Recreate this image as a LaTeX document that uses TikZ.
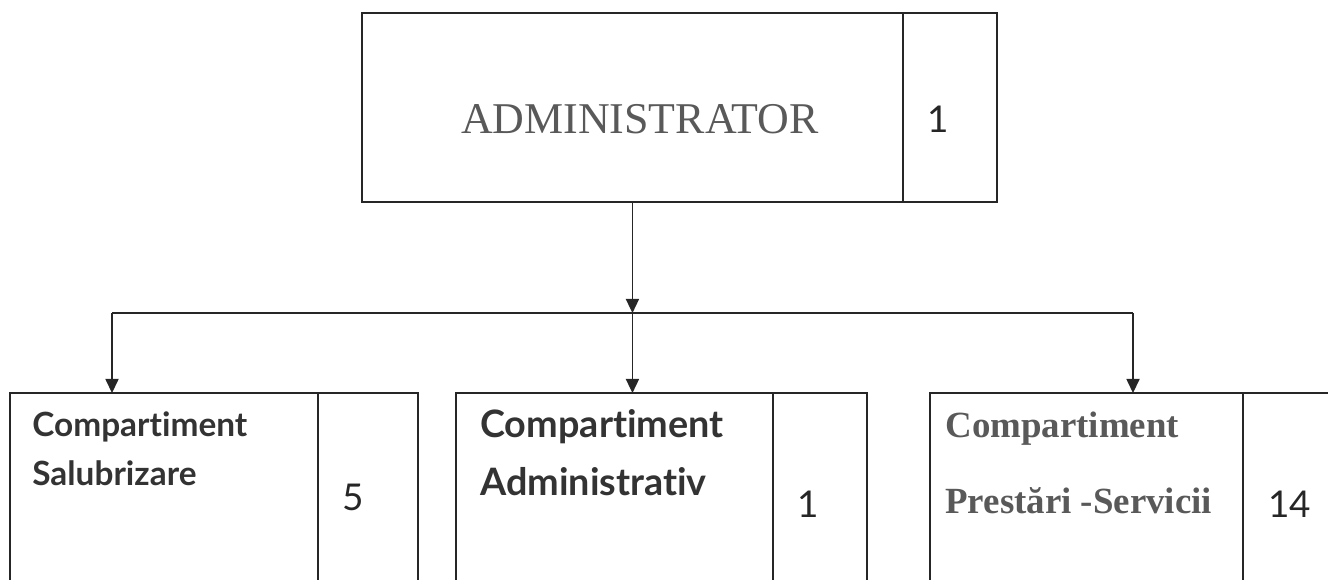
\documentclass[tikz,border=0pt]{standalone}
\usepackage{fontspec}
\setmainfont{Liberation Serif}
\setsansfont{Lato}[Ligatures=NoCommon]
\usetikzlibrary{arrows.meta,positioning}

\tikzset{
  box/.style={rectangle, draw=black!85, line width=0.7pt, inner sep=0pt, outer sep=0pt},
  unit/.style={box, anchor=north west},
  link/.style={draw=black!85, line width=0.7pt},
  down/.style={link, -{Triangle[length=8pt,width=7.5pt]}},
  headtxt/.style={anchor=base, inner sep=0pt, text=black!65, font=\fontsize{25}{28}\selectfont},
  sanstxt/.style={anchor=base west, inner sep=0pt, text=black!80, font=\sffamily\bfseries\fontsize{#1}{#1}\selectfont},
  seriftxt/.style={anchor=base west, inner sep=0pt, text=black!65, font=\bfseries\fontsize{21}{24}\selectfont},
  digit/.style={anchor=base west, inner sep=0pt, text=black!85, font=\sffamily\fontsize{21}{24}\selectfont}
}

\begin{document}
\begin{tikzpicture}[x=0.02cm, y=-0.02cm]
  \useasboundingbox (0,0) rectangle (1328,579);

  % top
  \node[unit, minimum width=10.82cm, minimum height=3.78cm] (Adm) at (362,13) {};
  \node[box, minimum width=1.88cm, minimum height=3.78cm, right=0pt of Adm] (AdmN) {};
  \node[headtxt] (AdmT) at (640,133) {ADMINISTRATOR};
  \node[digit]   (AdmD) at (927,132) {1};

  % compartments
  \node[unit, minimum width=6.16cm, minimum height=4.14cm] (Sal) at (10,393) {};
  \node[box, minimum width=2cm, minimum height=4.14cm, right=0pt of Sal] (SalN) {};
  \node[sanstxt=19] (SalA) at (32,436) {Compartiment};
  \node[sanstxt=19] (SalB) at (32,485) {Salubrizare};
  \node[digit]      (SalD) at (342,510) {5};

  \node[unit, minimum width=6.34cm, minimum height=4.14cm] (Adv) at (456,393) {};
  \node[box, minimum width=1.88cm, minimum height=4.14cm, right=0pt of Adv] (AdvN) {};
  \node[sanstxt=21.5] (AdvA) at (480,437) {Compartiment};
  \node[sanstxt=21.5] (AdvB) at (480,495) {Administrativ};
  \node[digit]        (AdvD) at (797,517) {1};

  \node[unit, minimum width=6.26cm, minimum height=4.14cm] (Ps) at (930,393) {};
  \node[box, minimum width=1.94cm, minimum height=4.14cm, right=0pt of Ps] (PsN) {};
  \node[seriftxt] (PsA) at (945,437) {Compartiment};
  \node[seriftxt] (PsB) at (945,513) {Prestări -Servicii};
  \node[digit]    (PsD) at (1268,517) {14};

  % connectors
  \coordinate (Jl) at (112,313);
  \coordinate (Jr) at (1133,313);
  \coordinate (Jm) at (Adm.south |- Jl);

  \draw[link] (Jl) -- (Jr);
  \path (Adm.south) edge[down] (Jm)
        (Jl) edge[down] (Jl |- Sal.north)
        (Jm) edge[down] (Jm |- Adv.north)
        (Jr) edge[down] (Jr |- Ps.north);
\end{tikzpicture}
\end{document}
